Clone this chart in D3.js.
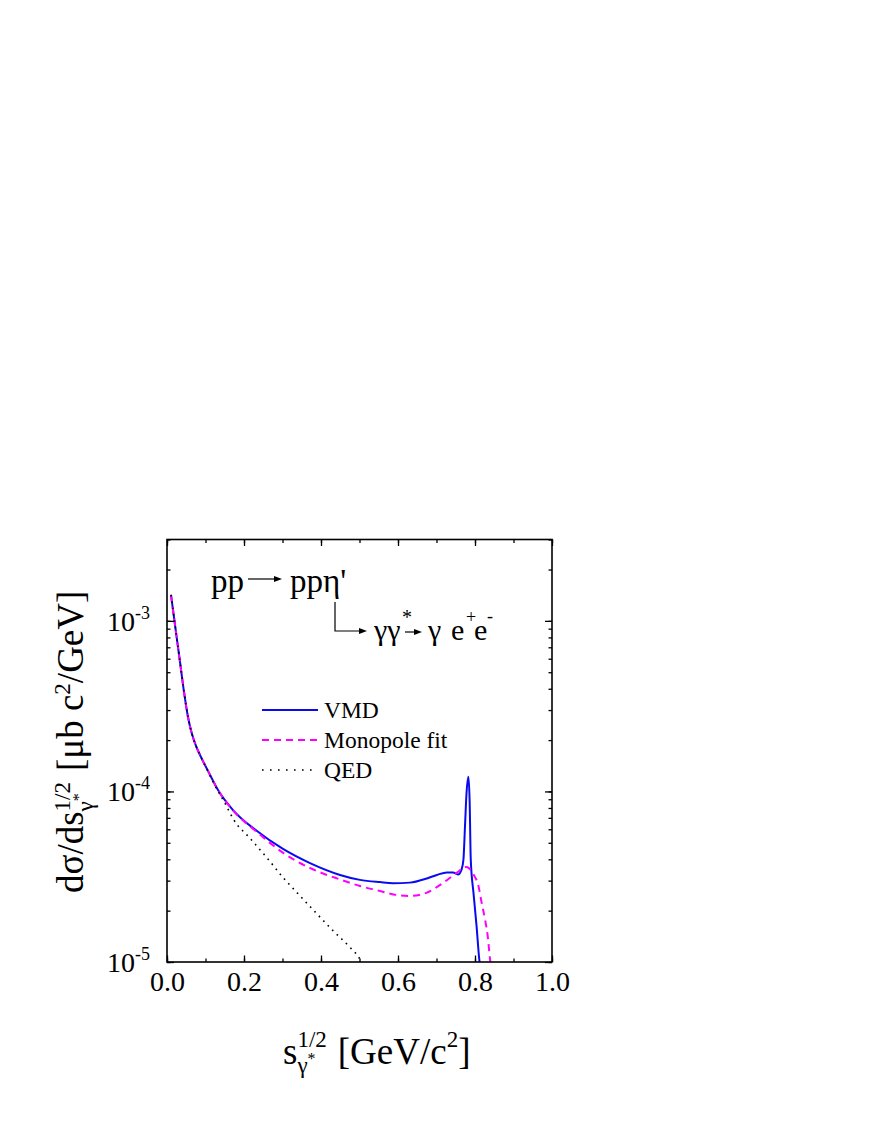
<!DOCTYPE html>
<html><head><meta charset="utf-8">
<script src="https://cdn.jsdelivr.net/npm/d3@7"></script>
<style>body{margin:0;background:#fff}svg{display:block}text{white-space:pre}</style>
</head><body>
<script>
// ---------------- data ----------------
const xTickValues = [0.0, 0.2, 0.4, 0.6, 0.8, 1.0];
const xTickLabels = ["0.0", "0.2", "0.4", "0.6", "0.8", "1.0"];
const yTickValues = [1e-5, 1e-4, 1e-3];
const yTickExponents = ["-5", "-4", "-3"];

const vmdX = [0.0104, 0.0208, 0.0338, 0.0442, 0.0545, 0.0649, 0.0753, 0.0883, 0.1065, 0.1325, 0.1714, 0.2338, 0.3013, 0.3714, 0.4494, 0.5013, 0.5532, 0.587, 0.631, 0.675, 0.701, 0.727, 0.743, 0.756, 0.765, 0.770, 0.774, 0.778, 0.783, 0.786, 0.789, 0.796, 0.804, 0.811, 0.816];
const vmdY = [1.42e-3, 9.46e-4, 5.74e-4, 3.83e-4, 2.73e-4, 2.17e-4, 1.85e-4, 1.59e-4, 1.32e-4, 1.02e-4, 7.78e-5, 5.86e-5, 4.60e-5, 3.80e-5, 3.24e-5, 3.03e-5, 2.94e-5, 2.90e-5, 2.92e-5, 3.09e-5, 3.24e-5, 3.35e-5, 3.35e-5, 3.26e-5, 3.48e-5, 3.99e-5, 6.24e-5, 9.8e-5, 1.22e-4, 8.9e-5, 3.99e-5, 2.55e-5, 1.63e-5, 1.04e-5, 8.5e-6];

const monoX = [0.0104, 0.0208, 0.0338, 0.0442, 0.0545, 0.0649, 0.0753, 0.0883, 0.1065, 0.1325, 0.1714, 0.2338, 0.302, 0.371, 0.449, 0.501, 0.553, 0.588, 0.631, 0.675, 0.718, 0.752, 0.778, 0.796, 0.809, 0.817, 0.826, 0.833, 0.839, 0.844];
const monoY = [1.42e-3, 9.46e-4, 5.74e-4, 3.83e-4, 2.73e-4, 2.17e-4, 1.85e-4, 1.59e-4, 1.32e-4, 1.02e-4, 7.74e-5, 5.78e-5, 4.36e-5, 3.56e-5, 3.05e-5, 2.79e-5, 2.61e-5, 2.49e-5, 2.44e-5, 2.55e-5, 2.92e-5, 3.33e-5, 3.61e-5, 3.26e-5, 2.79e-5, 2.24e-5, 1.78e-5, 1.42e-5, 1.04e-5, 8.5e-6];

const qedX = [0.0104, 0.0208, 0.0338, 0.0442, 0.0545, 0.0649, 0.0753, 0.0883, 0.1065, 0.125, 0.151, 0.172, 0.216, 0.259, 0.302, 0.345, 0.389, 0.432, 0.475, 0.501, 0.509];
const qedY = [1.42e-3, 9.46e-4, 5.74e-4, 3.83e-4, 2.73e-4, 2.17e-4, 1.85e-4, 1.59e-4, 1.31e-4, 1.08e-4, 8.5e-5, 6.9e-5, 5.3e-5, 4.1e-5, 3.12e-5, 2.45e-5, 1.92e-5, 1.52e-5, 1.22e-5, 1.04e-5, 9.6e-6];

const seriesNames = ["VMD", "Monopole fit", "QED"];

(function () {
// ---------------- layout ----------------
const W = 872, H = 1128;
const FONT = "Liberation Serif";
const svg = d3.select("body").append("svg").attr("width", W).attr("height", H)
  .attr("font-family", FONT);

const x = d3.scaleLinear().domain([0, 1]).range([167, 552]);
const y = d3.scaleLog().domain([1e-5, 3e-3]).range([962, 539.5]);

svg.append("defs").append("clipPath").attr("id", "clip")
  .append("rect").attr("x", 167).attr("y", 539.5).attr("width", 385).attr("height", 422.5);

// ---------------- curves ----------------
const line = d3.line().x(d => x(d[0])).y(d => y(d[1])).curve(d3.curveMonotoneX);
const curves = svg.append("g").attr("clip-path", "url(#clip)");
const styles = [
  {c: "#0a0af0", w: 2, dash: null},
  {c: "#ff00ff", w: 2, dash: "7,5"},
  {c: "#000", w: 1.6, dash: "1.6,4.8"}
];
const qedData = d3.zip(qedX, qedY), monoData = d3.zip(monoX, monoY), vmdData = d3.zip(vmdX, vmdY);
[[vmdData, styles[0]], [monoData, styles[1]], [qedData, styles[2]]].forEach(([d, s]) => {
  curves.append("path").datum(d).attr("d", line).attr("fill", "none")
    .attr("stroke", s.c).attr("stroke-width", s.w)
    .attr("stroke-dasharray", s.dash);
});

// ---------------- axes ----------------
const axisG = svg.append("g");
const minorX = d3.range(0, 1.0001, 0.1);
const minorY = [];
for (let e = -5; e <= -3; e++) for (let m = 1; m <= 9; m++) { const v = m * Math.pow(10, e); if (v <= 3e-3 + 1e-12) minorY.push(v); }

axisG.append("g").attr("transform", "translate(0,962)")
  .call(d3.axisBottom(x).tickValues(minorX).tickSize(-3.5).tickFormat(""));
const bottomMaj = axisG.append("g").attr("transform", "translate(0,962)")
  .call(d3.axisBottom(x).tickValues(xTickValues).tickSize(-6.5).tickFormat((d, i) => xTickLabels[i]));
axisG.append("g").attr("transform", "translate(0,539.5)")
  .call(d3.axisTop(x).tickValues(minorX).tickSize(-3.5).tickFormat(""));
axisG.append("g").attr("transform", "translate(0,539.5)")
  .call(d3.axisTop(x).tickValues(xTickValues).tickSize(-6.5).tickFormat(""));
axisG.append("g").attr("transform", "translate(167,0)")
  .call(d3.axisLeft(y).tickValues(minorY).tickSize(-3.5).tickFormat(""));
axisG.append("g").attr("transform", "translate(167,0)")
  .call(d3.axisLeft(y).tickValues(yTickValues).tickSize(-7).tickFormat(""));
axisG.append("g").attr("transform", "translate(552,0)")
  .call(d3.axisRight(y).tickValues(minorY).tickSize(-3.5).tickFormat(""));
axisG.append("g").attr("transform", "translate(552,0)")
  .call(d3.axisRight(y).tickValues(yTickValues).tickSize(-7).tickFormat(""));
axisG.attr("font-family", FONT);
axisG.selectAll(".domain").remove();
axisG.selectAll(".tick line").attr("stroke", "#000").attr("stroke-width", 1.3);
bottomMaj.selectAll(".tick text").attr("font-size", 28).attr("font-family", FONT).attr("fill", "#000").attr("y", 0).attr("dy", 29);

// y tick labels with superscript
yTickValues.forEach((v, i) => {
  const t = svg.append("text").attr("x", 150).attr("y", y(v) + 10).attr("text-anchor", "end")
    .attr("font-size", 28).attr("fill", "#000");
  t.append("tspan").text("10");
  t.append("tspan").attr("font-size", 18).attr("dy", -12).text(yTickExponents[i]);
});

svg.append("rect").attr("x", 167).attr("y", 539.5).attr("width", 385).attr("height", 422.5)
  .attr("fill", "none").attr("stroke", "#000").attr("stroke-width", 1.6);

// ---------------- rich labels ----------------
function rich(g, segs, main) {
  let cx = 0;
  segs.forEach(s => {
    if (s.gap) { cx += s.gap; return; }
    if (s.stack) {
      let wmax = 0;
      s.stack.forEach(p => {
        let px = cx;
        p.parts.forEach(q => {
          const t = g.append("text").attr("x", px).attr("y", q.dy).attr("font-size", q.size).attr("fill", "#000").text(q.t);
          px += t.node().getComputedTextLength();
        });
        wmax = Math.max(wmax, px - cx);
      });
      cx += wmax + 1;
    } else {
      const t = g.append("text").attr("x", cx).attr("y", s.dy || 0).attr("font-size", s.size || main).attr("fill", "#000").text(s.t);
      cx += t.node().getComputedTextLength();
    }
  });
  return cx;
}
const MAIN = 37, SCR = 23;
const xt = svg.append("g").attr("transform", "translate(283,1064)");
rich(xt, [
  {t: "s"},
  {stack: [
    {parts: [{t: "1/2", size: SCR, dy: -17}]},
    {parts: [{t: "γ", size: SCR, dy: 9}, {t: "*", size: 16, dy: 0}]}
  ]},
  {gap: 10},
  {t: "[GeV/c"},
  {t: "2", size: SCR, dy: -17},
  {t: "]"}
], MAIN);

const yt = svg.append("g").attr("transform", "translate(83,893) rotate(-90)");
rich(yt, [
  {t: "dσ/ds"},
  {stack: [
    {parts: [{t: "1/2", size: SCR, dy: -13}]},
    {parts: [{t: "γ", size: SCR, dy: 10}, {t: "*", size: 16, dy: 1}]}
  ]},
  {gap: 10},
  {t: "[μb c"},
  {t: "2", size: SCR, dy: -13},
  {t: "/GeV]"}
], MAIN);

// ---------------- reaction annotation ----------------
const ann = svg.append("g");
function arrow(x1, y1, x2, y2) {
  ann.append("line").attr("x1", x1).attr("y1", y1).attr("x2", x2 - 6).attr("y2", y2).attr("stroke", "#000").attr("stroke-width", 1.2);
  ann.append("path").attr("d", `M${x2},${y2} L${x2 - 8},${y2 - 3} L${x2 - 8},${y2 + 3} Z`).attr("fill", "#000");
}
ann.append("text").attr("x", 211).attr("y", 592).attr("font-size", 33).text("pp");
arrow(248, 579, 282, 579);
ann.append("text").attr("x", 290).attr("y", 592).attr("font-size", 33).text("ppη'");
ann.append("path").attr("d", "M335,602 L335,631 L361,631").attr("fill", "none").attr("stroke", "#000").attr("stroke-width", 1.2);
arrow(360, 631, 367, 631);
ann.append("text").attr("x", 374).attr("y", 640).attr("font-size", 30).text("γγ");
ann.append("text").attr("x", 402).attr("y", 624).attr("font-size", 20).text("*");
arrow(405, 632, 422, 632);
ann.append("text").attr("x", 428).attr("y", 640).attr("font-size", 30).text("γ");
ann.append("text").attr("x", 451).attr("y", 640).attr("font-size", 30).text("e");
ann.append("text").attr("x", 466).attr("y", 623).attr("font-size", 18).text("+");
ann.append("text").attr("x", 474).attr("y", 640).attr("font-size", 30).text("e");
ann.append("text").attr("x", 487).attr("y", 622).attr("font-size", 18).text("-");

// ---------------- legend ----------------
const legY = [710, 740, 770];
const leg = svg.append("g");
seriesNames.forEach((name, i) => {
  const s = styles[i];
  leg.append("line").attr("x1", 262).attr("x2", 318).attr("y1", legY[i]).attr("y2", legY[i])
    .attr("stroke", s.c).attr("stroke-width", s.w).attr("stroke-dasharray", i === 2 ? "1.6,6.4" : s.dash);
  leg.append("text").attr("x", 324).attr("y", legY[i] + 8).attr("font-size", 23.5).attr("fill", "#000").text(name);
});
})();
</script>
</body></html>
